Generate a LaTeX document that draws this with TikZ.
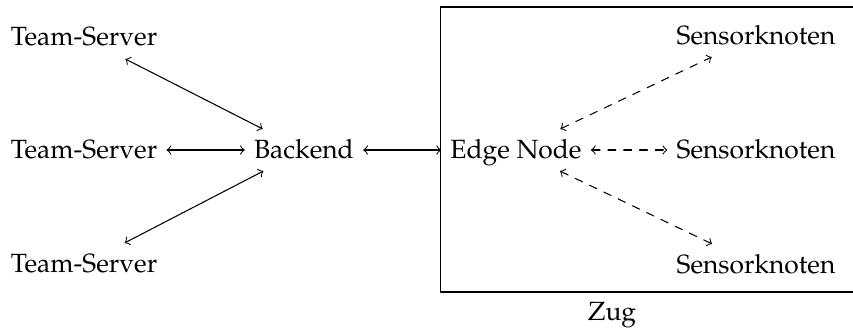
\documentclass[tikz,border=0pt]{standalone}
\usepackage[T1]{fontenc}
\usepackage{mathpazo}
\begin{document}
\begin{tikzpicture}[>=to,line join=round,line cap=round,
  every node/.style={anchor=base,text height=1.6ex,text depth=.3ex},
  link/.style={<->},
  funk/.style={<->,dashed}]
\useasboundingbox (0,0) rectangle (11.373,-4.36);
% Server-Seite
\path (1.12,-0.613) node (ts1) {Team-Server};
\path (1.12,-2.107) node (ts2) {Team-Server};
\path (1.12,-3.627) node (ts3) {Team-Server};
\path (4.053,-2.107) node (backend) {Backend};
% Zug mit Edge Node und Sensoren
\begin{scope}
\draw (5.867,-0.093) rectangle (11.6,-3.893);
\path (6.88,-2.107) node (edge) {Edge Node};
\path (10.08,-0.587) node (sk1) {Sensorknoten};
\path (10.08,-2.107) node (sk2) {Sensorknoten};
\path (10.08,-3.64) node (sk3) {Sensorknoten};
\path (8.16,-4.267) node (zug) {Zug};
\end{scope}
\foreach \t in {ts1,ts2,ts3}
\draw[link] (\t) -- (backend);
\draw[link] (backend) -- (edge);
\foreach \s in {sk1,sk2,sk3}
\draw[funk] (edge) -- (\s);
\end{tikzpicture}
\end{document}
